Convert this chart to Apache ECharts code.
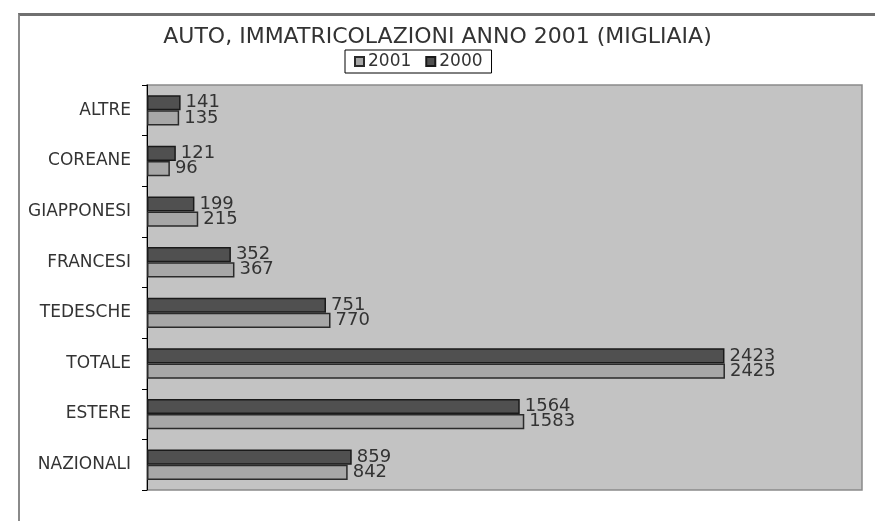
<!DOCTYPE html>
<html>
<head>
<meta charset="utf-8">
<script src="https://cdn.jsdelivr.net/npm/echarts@6/dist/echarts.min.js"></script>
<style>
  html, body { margin: 0; padding: 0; background: #fff; }
  #frame {
    position: absolute; left: 18px; top: 13px; width: 857px; height: 508px;
    border-top: 3px solid #707070; border-left: 2px solid #8a8a8a; box-sizing: border-box;
  }
  #chart { position: absolute; left: 0; top: 0; width: 875px; height: 521px; }
</style>
</head>
<body>
<div id="frame"></div>
<div id="chart"></div>
<script>
// categorie dall'alto verso il basso
var categories = ['ALTRE', 'COREANE', 'GIAPPONESI', 'FRANCESI', 'TEDESCHE', 'TOTALE', 'ESTERE', 'NAZIONALI'];
var values2000 = [141, 121, 199, 352, 751, 2423, 1564, 859];
var values2001 = [135, 96, 215, 367, 770, 2425, 1583, 842];

var chart = echarts.init(document.getElementById('chart'));

var labelStyle = {
  show: true,
  position: 'right',
  distance: 5,
  color: '#333',
  fontSize: 18,
  lineHeight: 16,
  fontFamily: 'DejaVu Sans'
};

var option = {
  animation: false,
  title: {
    text: 'AUTO, IMMATRICOLAZIONI ANNO 2001 (MIGLIAIA)',
    left: 'center',
    top: 21,
    textStyle: { fontSize: 22, fontWeight: 'normal', color: '#333', fontFamily: 'DejaVu Sans' }
  },
  legend: {
    data: ['2001', '2000'],
    top: 50,
    left: 345,
    borderColor: '#000',
    borderWidth: 1,
    borderRadius: 0,
    padding: [3, 9],
    itemGap: 14,
    itemWidth: 9,
    itemHeight: 9,
    icon: 'rect',
    textStyle: { fontSize: 17, color: '#333', fontFamily: 'DejaVu Sans', padding: [0, 0, 0, -1] }
  },
  grid: {
    left: 147,
    right: 13,
    top: 85,
    bottom: 31,
    show: true,
    backgroundColor: '#c3c3c3',
    borderColor: '#8a8a8a',
    borderWidth: 1.5
  },
  xAxis: {
    type: 'value',
    min: 0,
    max: 3000,
    show: false
  },
  yAxis: {
    type: 'category',
    data: categories,
    inverse: true,
    axisLine: { lineStyle: { color: '#000', width: 1 } },
    axisTick: { show: true, length: 5, lineStyle: { color: '#000' } },
    axisLabel: { color: '#333', fontSize: 17, margin: 16, fontFamily: 'DejaVu Sans' }
  },
  series: [
    {
      name: '2000',
      type: 'bar',
      data: values2000,
      barGap: '0%',
      barCategoryGap: '40%',
      itemStyle: { color: '#505050', borderColor: '#1a1a1a', borderWidth: 1.5 },
      label: labelStyle
    },
    {
      name: '2001',
      type: 'bar',
      data: values2001,
      barGap: '0%',
      barCategoryGap: '40%',
      itemStyle: { color: '#a7a7a7', borderColor: '#2a2a2a', borderWidth: 1.5 },
      label: labelStyle
    }
  ]
};

chart.setOption(option);
</script>
</body>
</html>
